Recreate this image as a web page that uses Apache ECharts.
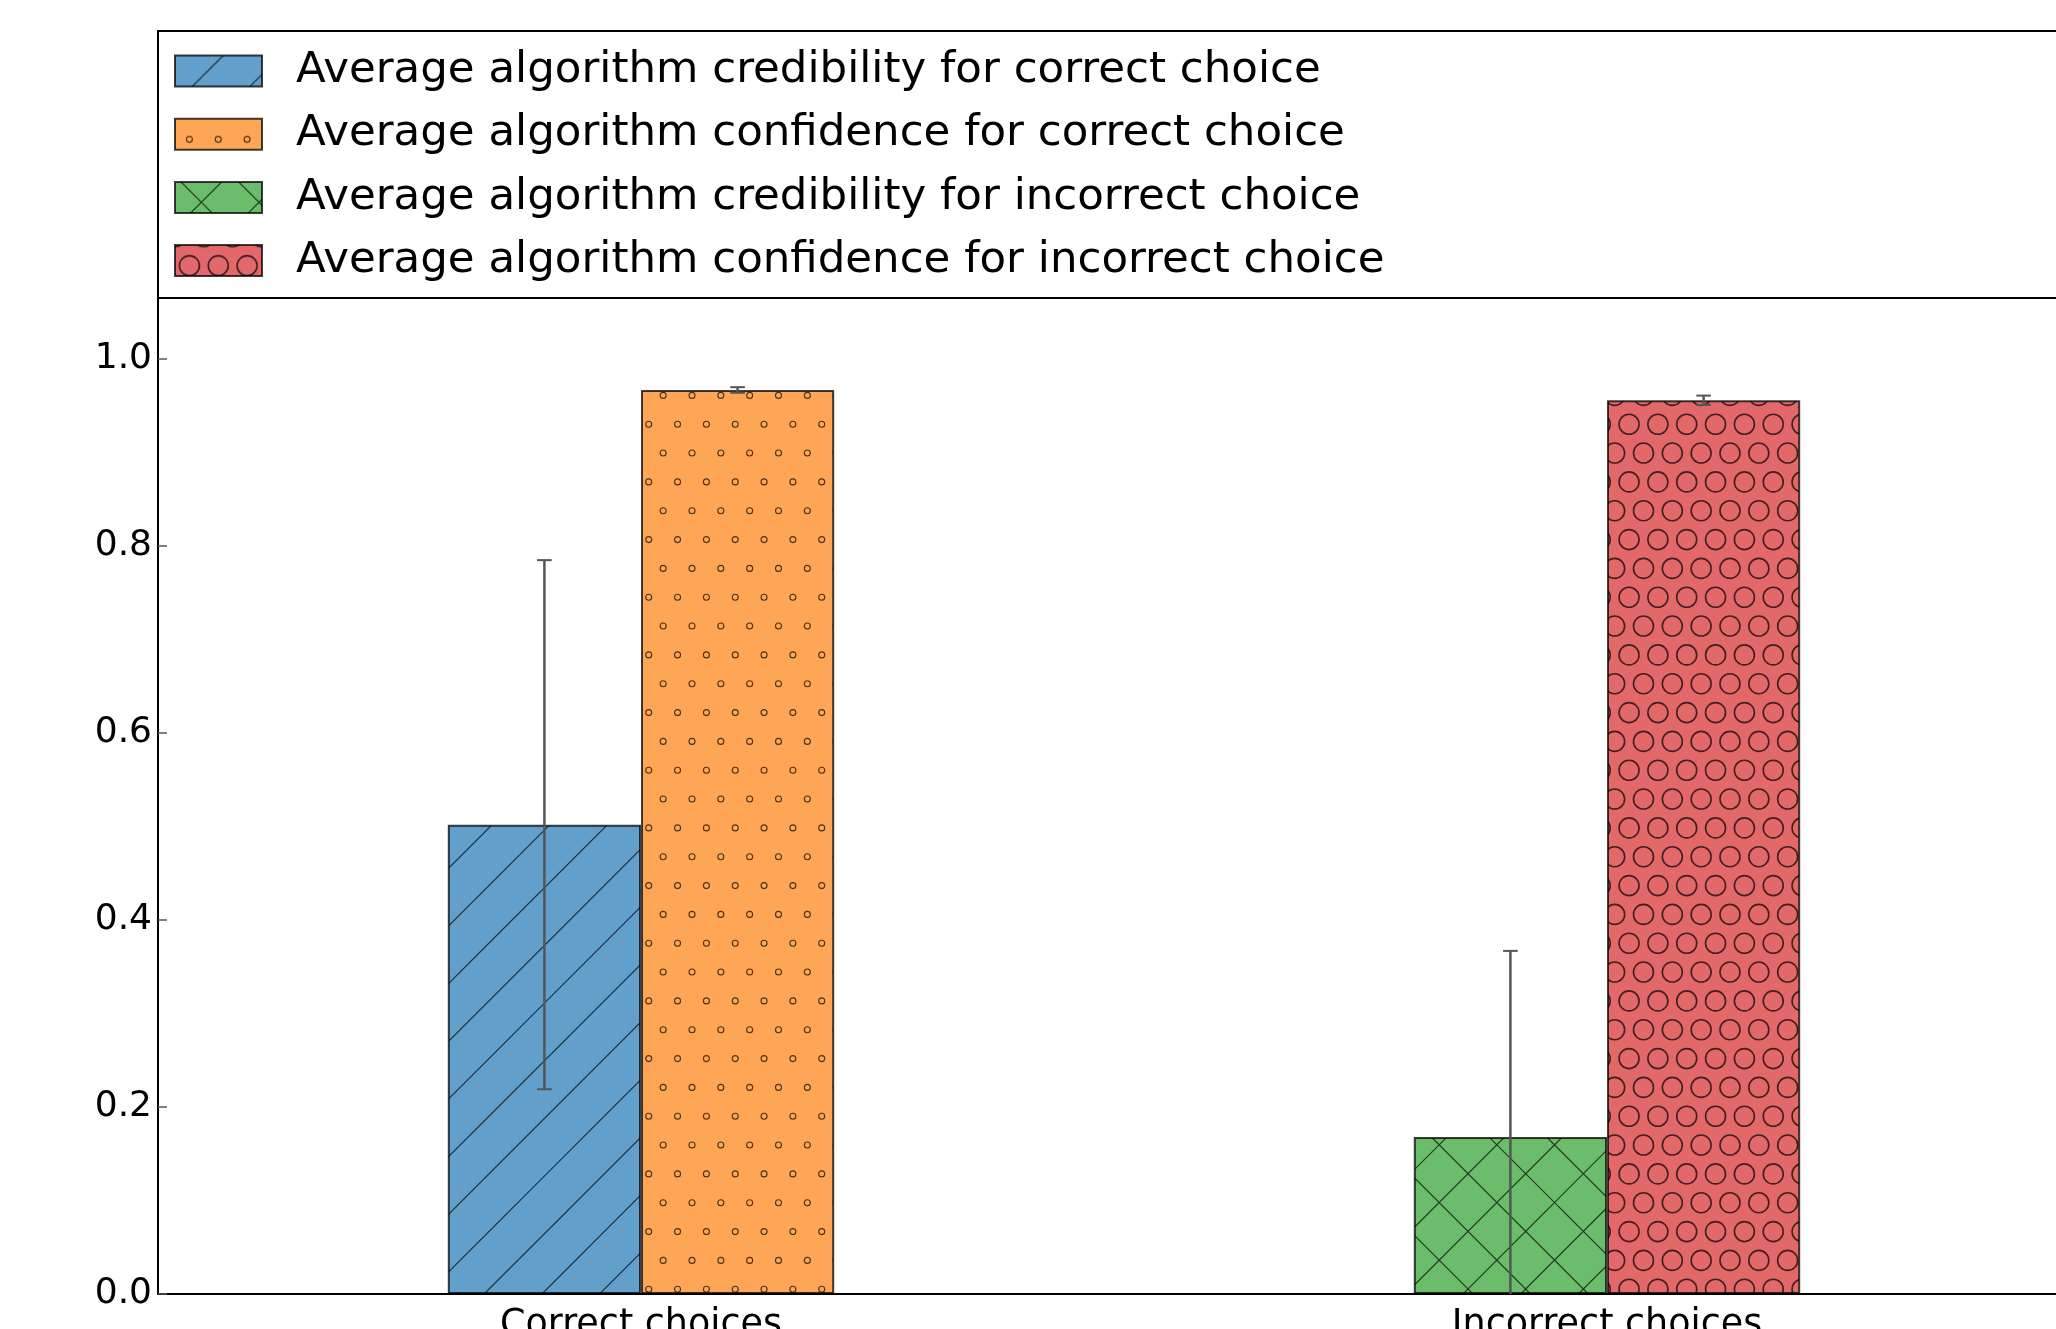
<!DOCTYPE html>
<html>
<head>
<meta charset="utf-8">
<script src="https://cdn.jsdelivr.net/npm/echarts@6/dist/echarts.min.js"></script>
<style>
html,body{margin:0;padding:0;background:#fff;}
#chart{position:absolute;left:0;top:0;width:2056px;height:1329px;}
</style>
</head>
<body>
<div id="chart"></div>
<script>
// ---- data ----
const categories = ['Correct choices', 'Incorrect choices'];
const seriesNames = [
  'Average algorithm credibility for correct choice',
  'Average algorithm confidence for correct choice',
  'Average algorithm credibility for incorrect choice',
  'Average algorithm confidence for incorrect choice'
];
const credibilityMean = [0.502, 0.168];
const credibilityErr = [0.283, 0.199];
const confidenceMean = [0.967, 0.956];
const confidenceErr = [0.003, 0.005];
const yTickLabels = ['0.0', '0.2', '0.4', '0.6', '0.8', '1.0'];

// ---- hatch patterns ----
const P = 57.66, H = P / 2, S = 173;
function makeTile(fill, stroke, kind) {
  const c = document.createElement('canvas');
  c.width = S; c.height = S;
  const g = c.getContext('2d');
  g.fillStyle = fill; g.fillRect(0, 0, S, S);
  g.strokeStyle = stroke;
  if (kind === 'diag' || kind === 'cross') {
    g.lineWidth = 1.2;
    const ph = kind === 'diag' ? 48.2 : 46.7;
    for (let k = -2; k <= 8; k++) {
      const c0 = ph + k * P;
      g.beginPath(); g.moveTo(c0 + 20, -20); g.lineTo(c0 - S - 20, S + 20); g.stroke();
    }
    if (kind === 'cross') {
      for (let k = -5; k <= 5; k++) {
        const c0 = 6.0 + k * P;
        g.beginPath(); g.moveTo(c0 - 20, -20); g.lineTo(c0 + S + 20, S + 20); g.stroke();
      }
    }
  } else {
    const r = kind === 'small' ? 3.0 : 10.0;
    g.lineWidth = kind === 'small' ? 1.1 : 1.6;
    for (let i = -1; i <= 7; i++) {
      for (let j = -1; j <= 4; j++) {
        [[i * H, 49.4 + j * P], [14.4 + i * H, 20.6 + j * P]].forEach(function (p) {
          g.beginPath(); g.arc(p[0], p[1], r, 0, Math.PI * 2); g.stroke();
        });
      }
    }
  }
  return { image: c, repeat: 'repeat' };
}
const fills = [
  makeTile('#62A0CB', '#1d303d', 'diag'),
  makeTile('#FFA556', '#4d321a', 'small'),
  makeTile('#6BBD6B', '#203920', 'cross'),
  makeTile('#E26869', '#441f20', 'large')
];

const FONT = 'DejaVu Sans';
const edge = { borderColor: 'rgba(0,0,0,0.75)', borderWidth: 2 };

function barSeries(i, stack, data) {
  return {
    name: seriesNames[i], type: 'bar', stack: stack, data: data,
    barWidth: '20%', barGap: '0%',
    itemStyle: Object.assign({ color: fills[i] }, edge),
    emphasis: { disabled: true }, z: 2
  };
}

const errData = [
  [0, credibilityMean[0], credibilityErr[0], -1],
  [0, confidenceMean[0], confidenceErr[0], 1],
  [1, credibilityMean[1], credibilityErr[1], -1],
  [1, confidenceMean[1], confidenceErr[1], 1]
];

const chart = echarts.init(document.getElementById('chart'), null, { renderer: 'canvas' });
chart.setOption({
  animation: false,
  backgroundColor: '#fff',
  grid: {
    left: 158, top: 31, right: -34, bottom: 35,
    show: true, borderColor: '#000', borderWidth: 2,
    outerBoundsMode: 'none', containLabel: false
  },
  xAxis: {
    type: 'category', data: categories,
    axisLine: { lineStyle: { color: '#000', width: 2 } },
    axisTick: { show: false },
    axisLabel: { color: '#000', fontFamily: FONT, fontSize: 36.5, margin: 13 },
    splitLine: { show: false }
  },
  yAxis: {
    type: 'value', min: 0, max: 1.351, interval: 0.2,
    axisLine: { show: true, lineStyle: { color: '#000', width: 2 } },
    axisTick: { show: true, inside: true, length: 9, lineStyle: { color: '#555', width: 1.5 } },
    axisLabel: {
      color: '#000', fontFamily: FONT, fontSize: 36, margin: 6,
      formatter: function (v) {
        const i = Math.round(v / 0.2);
        return (Math.abs(v - i * 0.2) < 1e-6 && i < yTickLabels.length) ? yTickLabels[i] : '';
      }
    },
    splitLine: { show: false }
  },
  legend: {
    data: seriesNames, orient: 'vertical', left: 174, top: 49,
    padding: 0, itemWidth: 87, itemHeight: 31, itemGap: 19.2,
    icon: 'rect', selectedMode: false, z: 60,
    itemStyle: { borderColor: 'rgba(0,0,0,0.75)', borderWidth: 2 },
    textStyle: { color: '#000', fontFamily: FONT, fontSize: 43.5, lineHeight: 43, padding: [0, 0, 0, 29] }
  },
  graphic: [{
    type: 'rect', z: 50,
    shape: { x: 158, y: 31, width: 2000, height: 267 },
    style: { fill: '#fff', stroke: '#000', lineWidth: 2 }
  }],
  series: [
    barSeries(0, 'a', [credibilityMean[0], '-']),
    barSeries(1, 'b', [confidenceMean[0], '-']),
    barSeries(2, 'a', ['-', credibilityMean[1]]),
    barSeries(3, 'b', ['-', confidenceMean[1]]),
    {
      type: 'custom', name: 'err', data: errData, z: 5, clip: true,
      encode: { x: 0, y: 1 },
      renderItem: function (params, api) {
        const idx = api.value(0), v = api.value(1), e = api.value(2), slot = api.value(3);
        const band = api.size([1, 0])[0];
        const cx = api.coord([idx, v])[0] + slot * band * 0.1;
        const top = api.coord([idx, v + e])[1];
        const low = v - e;
        const bot = api.coord([idx, Math.max(low, 0)])[1];
        const st = { stroke: '#555', lineWidth: 2.5 };
        const capSt = { stroke: '#555', lineWidth: 2 };
        const cap = 7.3;
        const ch = [
          { type: 'line', shape: { x1: cx, y1: top, x2: cx, y2: bot }, style: st },
          { type: 'line', shape: { x1: cx - cap, y1: top, x2: cx + cap, y2: top }, style: capSt }
        ];
        if (low >= 0) ch.push({ type: 'line', shape: { x1: cx - cap, y1: bot, x2: cx + cap, y2: bot }, style: capSt });
        return { type: 'group', children: ch };
      }
    }
  ]
});
</script>
</body>
</html>
